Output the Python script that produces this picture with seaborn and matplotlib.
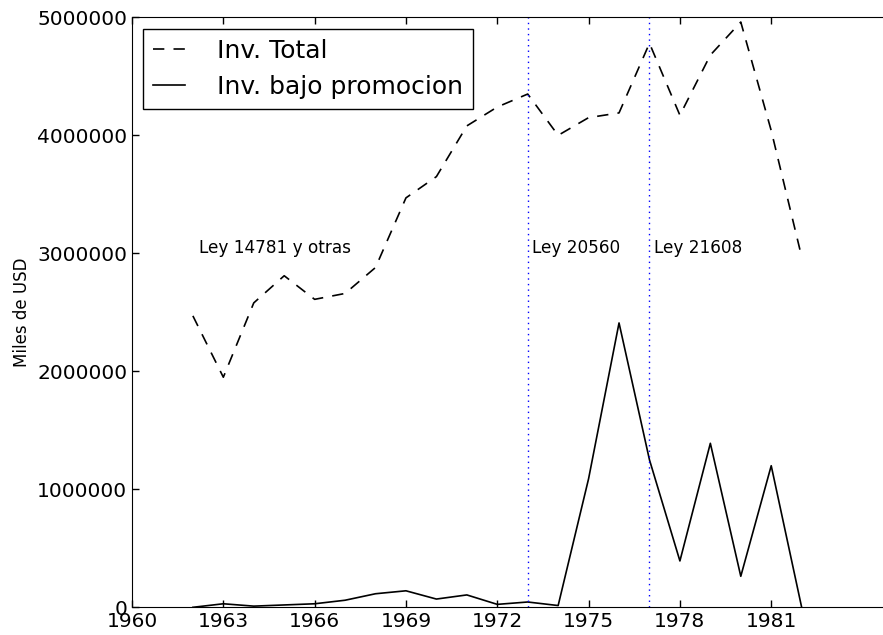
import numpy as np
import pandas as pd
import seaborn as sns
import matplotlib
matplotlib.use("Agg")
import matplotlib.pyplot as plt

# datos
years = list(range(1962, 1983))
inv_total = [2470000, 1950000, 2580000, 2810000, 2610000, 2660000, 2880000,
             3470000, 3650000, 4080000, 4240000, 4350000, 4000000, 4150000,
             4190000, 4780000, 4170000, 4680000, 4960000, 4040000, 2970000]
inv_promo = [0, 30000, 10000, 20000, 30000, 60000, 115000, 140000, 70000,
             105000, 25000, 45000, 15000, 1090000, 2410000, 1250000, 393000,
             1390000, 263000, 1200000, 0]
leyes = [1973, 1977]
ley_text = ["Ley 14781 y otras", "Ley 20560", "Ley 21608"]
ley_x = [1962.2, 1973.15, 1977.15]
xticks = list(range(1960, 1982, 3))

df = pd.DataFrame({"anio": years, "total": inv_total, "promo": inv_promo})

plt.rcParams["xtick.direction"] = "in"
plt.rcParams["ytick.direction"] = "in"
plt.rcParams["xtick.top"] = True
plt.rcParams["ytick.right"] = True

fig = plt.figure(figsize=(8.83, 6.35), dpi=100)
ax = fig.add_axes([0.1495, 0.0436, 0.8618, 0.9291])

sns.lineplot(data=df, x="anio", y="total", ax=ax, color="black", lw=1.2,
             linestyle=(0, (6.8, 5.5)), label="Inv. Total")
sns.lineplot(data=df, x="anio", y="promo", ax=ax, color="black", lw=1.2,
             label="Inv. bajo promocion")

for x in leyes:
    ax.axvline(x, color="blue", lw=1.0, linestyle=(0, (1, 3)))
for x, t in zip(ley_x, ley_text):
    ax.text(x, 3000000, t, fontsize=12.2)

ax.set_xlim(1960, 1985)
ax.set_ylim(0, 5000000)
ax.set_xticks(xticks)
ax.set_yticks(np.arange(0, 5000001, 1000000))
ax.ticklabel_format(style="plain", useOffset=False, axis="y")
ax.tick_params(labelsize=14.5, length=5, width=1)
ax.set_xlabel("")
ax.set_ylabel("Miles de USD", fontsize=12)

leg = ax.legend(loc="upper left", fontsize=18, fancybox=False,
                framealpha=1, edgecolor="black", handlelength=1.25,
                handletextpad=1.3, borderaxespad=0.45, borderpad=0.4,
                labelspacing=0.5)
leg.get_frame().set_linewidth(1.0)

fig.savefig("out.png", dpi=100)
